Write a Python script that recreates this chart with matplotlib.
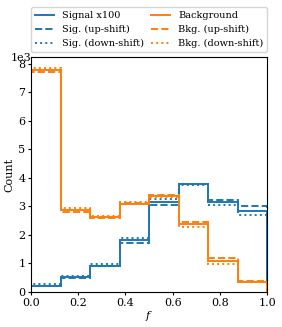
import numpy as np
import matplotlib
matplotlib.use("Agg")
import matplotlib.pyplot as plt

plt.rcParams['font.family'] = ['DejaVu Serif']
plt.rcParams['mathtext.fontset'] = 'dejavuserif'

edges = [0.0, 0.125, 0.25, 0.375, 0.5, 0.625, 0.75, 0.875, 1.0]

sig_nom = [220, 510, 900, 1810, 3150, 3780, 3140, 2850]
sig_up = [210, 500, 920, 1720, 3060, 3790, 3230, 3000]
sig_down = [270, 570, 990, 1900, 3240, 3730, 3040, 2700]

bkg_nom = [7780, 2880, 2620, 3090, 3360, 2380, 1080, 340]
bkg_up = [7720, 2810, 2580, 3110, 3390, 2460, 1190, 390]
bkg_down = [7840, 2940, 2660, 3140, 3320, 2290, 970, 360]

fig = plt.figure(figsize=(2.82, 3.27), dpi=100)
ax = fig.add_axes([0.11, 0.107, 0.837, 0.719])

c0, c1 = 'tab:blue', 'tab:orange'
lw = 1.4
ax.stairs(sig_nom, edges, color=c0, lw=lw, ls='-', label='Signal x100')
ax.stairs(sig_up, edges, color=c0, lw=lw, ls='--', label='Sig. (up-shift)')
ax.stairs(sig_down, edges, color=c0, lw=lw, ls=':', label='Sig. (down-shift)')
ax.stairs(bkg_nom, edges, color=c1, lw=lw, ls='-', label='Background')
ax.stairs(bkg_up, edges, color=c1, lw=lw, ls='--', label='Bkg. (up-shift)')
ax.stairs(bkg_down, edges, color=c1, lw=lw, ls=':', label='Bkg. (down-shift)')

ax.set_xlim(0, 1)
ax.set_ylim(0, max(bkg_down) * 1.05)
ax.ticklabel_format(axis='y', style='sci', scilimits=(0, 0))
ax.tick_params(labelsize=8, length=2, pad=2)
off = ax.yaxis.get_offset_text()
off.set_fontsize(8)
off.set_horizontalalignment('right')
off.set_verticalalignment('top')
ax.set_xlabel('$f$', fontsize=8, labelpad=1)
ax.set_ylabel('Count', fontsize=8, labelpad=3)

ax.legend(loc='lower left', bbox_to_anchor=(0, 1.02, 1, 0.2), ncol=2,
          mode='expand', fontsize=7, borderaxespad=0, handlelength=2.0,
          columnspacing=0.5, labelspacing=0.5)

fig.savefig('out.png', dpi=100)
